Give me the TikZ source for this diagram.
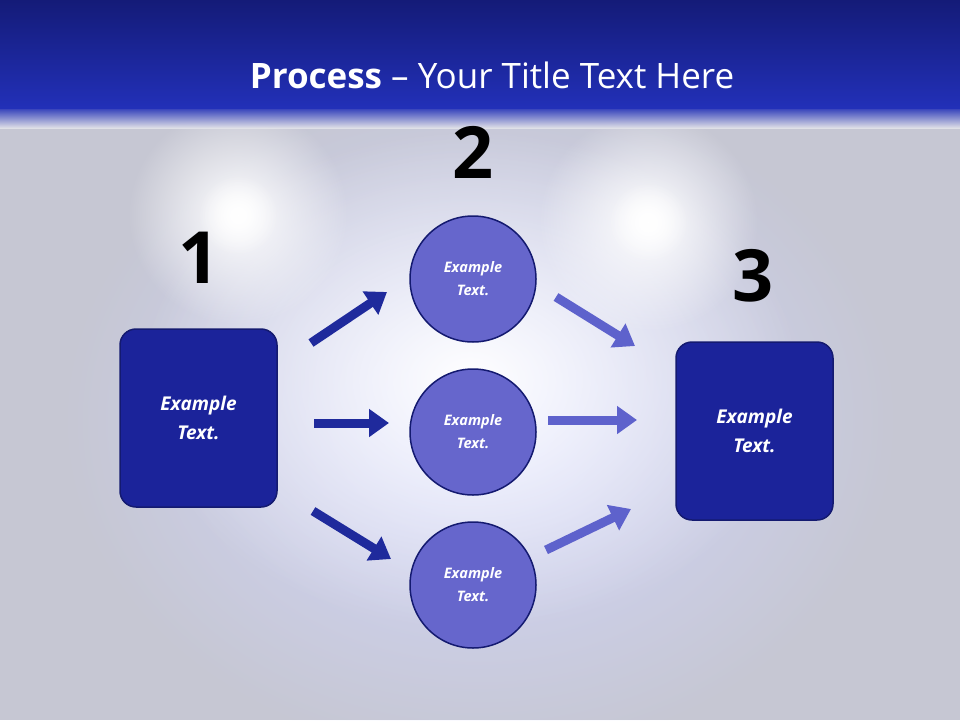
\documentclass[tikz,border=0pt]{standalone}
\usepackage{fontspec}
\setmainfont{Open Sans}
\usetikzlibrary{arrows.meta,fadings}
\definecolor{bg}{HTML}{C6C7D3}
\definecolor{hdtop}{HTML}{141B78}
\definecolor{hdbot}{HTML}{2230B8}
\definecolor{boxc}{HTML}{1B239A}
\definecolor{boxb}{HTML}{141A70}
\definecolor{circc}{HTML}{6666CC}
\definecolor{darr}{HTML}{1F2A9C}
\definecolor{larr}{HTML}{5E62CC}
\definecolor{glowc}{HTML}{D4D8FF}
\tikzfading[name=softglow, inner color=transparent!0, outer color=transparent!100]
\tikzset{
  sq/.style={draw=boxb,line width=1.5pt,fill=boxc,rounded corners=16pt,minimum width=157pt,minimum height=178pt,text=white,font=\bfseries\itshape\fontsize{19}{29}\selectfont,align=center},
  circ/.style={circle,draw=boxb,line width=1.5pt,fill=circc,minimum size=126pt,text=white,font=\bfseries\itshape\fontsize{14.5}{23}\selectfont,align=center},
  num/.style={font=\bfseries\fontsize{72}{76}\selectfont,text=black},
  arr/.style={line width=9pt,-{Triangle[length=20pt,width=27pt]}},
  glow/.style={path fading=softglow},
}
\begin{document}
\begin{tikzpicture}[x=1pt,y=-1pt]
\useasboundingbox (0,0) rectangle (960,720);
\fill[bg] (0,0) rectangle (960,720);
\fill[glowc,glow] (480,420) ellipse (420 and 340);
\fill[white,glow] (470,380) ellipse (330 and 250);
\fill[white,glow] (238,215) circle (110);
\fill[white,glow] (648,222) circle (110);
\fill[white,glow] (238,215) circle (40);
\fill[white,glow] (648,222) circle (40);
\shade[top color=hdtop,bottom color=hdbot] (0,0) rectangle (960,108);
\shade[top color=hdbot,bottom color=bg!50!white,opacity=0.9] (0,108) rectangle (960,128);
\node[text=white,font=\fontsize{35}{40}\selectfont] (title) at (492,75) {\textbf{Process} -- Your Title Text Here};
\node[sq] (b1) at (198.5,418) {Example\\Text.};
\node[sq] (b3) at (754.5,431) {Example\\Text.};
\node[circ] (c1) at (473,279) {Example\\Text.};
\node[circ] (c2) at (473,432) {Example\\Text.};
\node[circ] (c3) at (473,585) {Example\\Text.};
\node[num] (n1) at (199,258) {1};
\node[num] (n2) at (473,152) {2};
\node[num] (n3) at (753,276) {3};
\coordinate (a1s) at (311,343); \coordinate (a1e) at (387,292);
\coordinate (a2s) at (314,423); \coordinate (a2e) at (389,423);
\coordinate (a3s) at (313,511); \coordinate (a3e) at (391,559);
\coordinate (a4s) at (556,297); \coordinate (a4e) at (635,346);
\coordinate (a5s) at (548,420); \coordinate (a5e) at (637,420);
\coordinate (a6s) at (546,550); \coordinate (a6e) at (631,509);
\draw[arr,darr] (a1s) -- (a1e);
\draw[arr,darr] (a2s) -- (a2e);
\draw[arr,darr] (a3s) -- (a3e);
\draw[arr,larr] (a4s) -- (a4e);
\draw[arr,larr] (a5s) -- (a5e);
\draw[arr,larr] (a6s) -- (a6e);
\end{tikzpicture}
\end{document}
